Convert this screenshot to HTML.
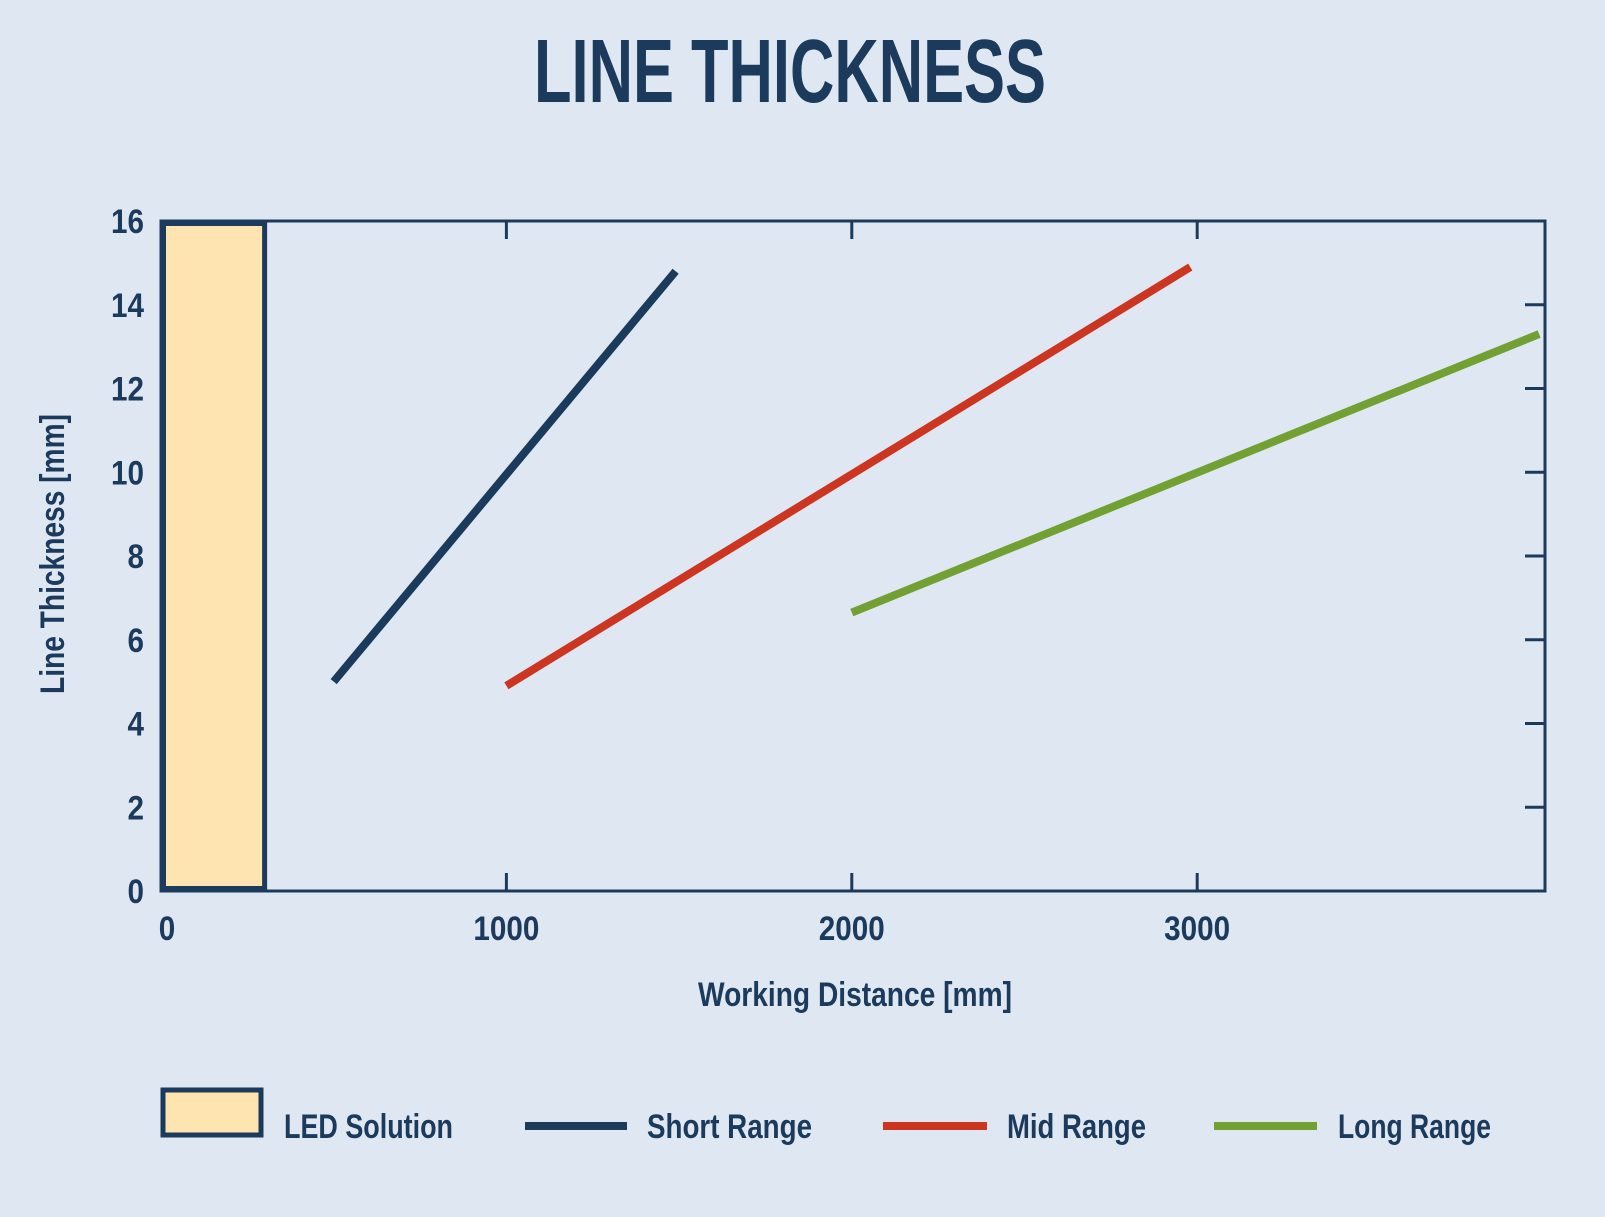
<!DOCTYPE html>
<html><head><meta charset="utf-8"><style>
html,body{margin:0;padding:0;background:#dfe8f2;}
svg{display:block;font-family:"Liberation Sans",sans-serif;font-weight:bold;}
</style></head><body>
<svg id="chart" width="1605" height="1217" viewBox="0 0 1605 1217" xmlns="http://www.w3.org/2000/svg">
<rect width="1605" height="1217" fill="#dfe8f2"/>
<text x="790" y="102" text-anchor="middle" font-size="90" fill="#1b3a5c" textLength="512" lengthAdjust="spacingAndGlyphs">LINE THICKNESS</text>
<g id="plot"></g>
<text x="855" y="1006" text-anchor="middle" font-size="34" fill="#1b3a5c" textLength="314" lengthAdjust="spacingAndGlyphs">Working Distance [mm]</text>
<text transform="translate(64,554) rotate(-90)" text-anchor="middle" font-size="34" fill="#1b3a5c" textLength="280" lengthAdjust="spacingAndGlyphs">Line Thickness [mm]</text>
<g>
<rect x="163" y="1090" width="98" height="45" fill="#fee4b0" stroke="#1b3a5c" stroke-width="5"/>
<text x="284" y="1138" font-size="34" fill="#1b3a5c" textLength="169" lengthAdjust="spacingAndGlyphs">LED Solution</text>
<line x1="525" y1="1126" x2="627" y2="1126" stroke="#1b3a5c" stroke-width="8"/>
<text x="647" y="1138" font-size="34" fill="#1b3a5c" textLength="165" lengthAdjust="spacingAndGlyphs">Short Range</text>
<line x1="883" y1="1126" x2="987" y2="1126" stroke="#cc3520" stroke-width="8"/>
<text x="1007" y="1138" font-size="34" fill="#1b3a5c" textLength="139" lengthAdjust="spacingAndGlyphs">Mid Range</text>
<line x1="1214" y1="1126" x2="1317" y2="1126" stroke="#72a032" stroke-width="8"/>
<text x="1338" y="1138" font-size="34" fill="#1b3a5c" textLength="153" lengthAdjust="spacingAndGlyphs">Long Range</text>
</g>
</svg>
<script>
const xTicks = [0, 1000, 2000, 3000];
const yTicks = [0, 2, 4, 6, 8, 10, 12, 14, 16];
const ledBar = [0, 300, 16];
const shortX = [500, 1490];
const shortY = [5, 14.8];
const midX = [1000, 2980];
const midY = [4.9, 14.9];
const longX = [2000, 3990];
const longY = [6.65, 13.3];

const NS = "http://www.w3.org/2000/svg";
const L = 161, R = 1545, T = 221, B = 891;
const xMax = 4007, yMax = 16;
const sx = v => L + v / xMax * (R - L);
const sy = v => B - v / yMax * (B - T);
const g = document.getElementById('plot');
function mk(tag, attrs) {
  const e = document.createElementNS(NS, tag);
  for (const k in attrs) e.setAttribute(k, attrs[k]);
  g.appendChild(e);
  return e;
}
const navy = "#1b3a5c";
let e;
e = mk('rect', {x: L, y: T, width: R - L, height: B - T, fill: 'none', stroke: navy, 'stroke-width': 3});


e = mk('rect', {x: sx(ledBar[0]) + 2.5, y: sy(ledBar[2]) + 2.5, width: sx(ledBar[1]) - sx(ledBar[0]) - 2.5, height: sy(0) - sy(ledBar[2]) - 5, fill: '#fee4b0', stroke: navy, 'stroke-width': 5});


xTicks.forEach(v => {
  if (v > 0) {
    e = mk('line', {x1: sx(v), y1: T, x2: sx(v), y2: T + 18, stroke: navy, 'stroke-width': 3});
    
    
    e = mk('line', {x1: sx(v), y1: B, x2: sx(v), y2: B - 18, stroke: navy, 'stroke-width': 3});
    
    
  }
  const s = String(v);
  e = mk('text', {x: sx(v) + (v === 0 ? 6 : 0), y: 940, 'text-anchor': 'middle', 'font-size': 34, fill: navy, textLength: s.length * 16.5, lengthAdjust: 'spacingAndGlyphs'});
  e.textContent = s;
  
  
});
yTicks.forEach(v => {
  if (v > 0 && v < 16) {
    e = mk('line', {x1: R, y1: sy(v), x2: R - 20, y2: sy(v), stroke: navy, 'stroke-width': 3});
    
    
  }
  const s = String(v);
  e = mk('text', {x: 144, y: sy(v) + 12, 'text-anchor': 'end', 'font-size': 34, fill: navy, textLength: s.length * 16.5, lengthAdjust: 'spacingAndGlyphs'});
  e.textContent = s;
  
  
});
[[shortX, shortY, navy, 'short-range-line'], [midX, midY, '#cc3520', 'mid-range-line'], [longX, longY, '#72a032', 'long-range-line']].forEach(s => {
  e = mk('line', {x1: sx(s[0][0]), y1: sy(s[1][0]), x2: sx(s[0][1]), y2: sy(s[1][1]), stroke: s[2], 'stroke-width': 8});
  
  
});
</script>
</body></html>
